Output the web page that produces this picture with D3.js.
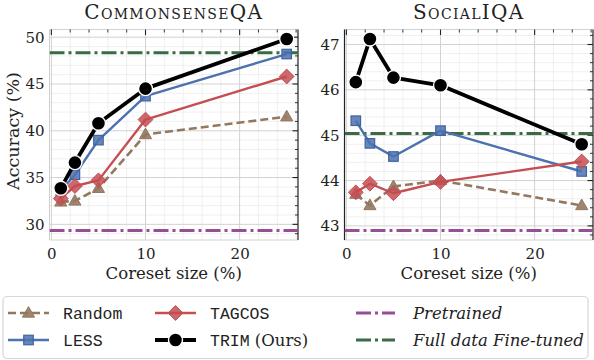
<!DOCTYPE html>
<html><head><meta charset="utf-8">
<script src="https://cdn.jsdelivr.net/npm/d3@7"></script>
<style>
body{margin:0;background:#fff;}
svg{display:block;}
</style></head>
<body><svg id="c" width="594" height="360"></svg>
<script>
// ---- data ----
const coresetSizes = [1, 2.5, 5, 10, 25];
const panelTitles = ["CommonsenseQA", "SocialIQA"];
const seriesNames = ["Random", "LESS", "TAGCOS", "TRIM"];
// CommonsenseQA
const csqaRandom = [32.4, 32.5, 33.85, 39.6, 41.5];
const csqaLESS   = [33.6, 35.3, 39.0, 43.7, 48.2];
const csqaTAGCOS = [32.75, 34.1, 34.7, 41.2, 45.8];
const csqaTRIM   = [33.85, 36.6, 40.8, 44.5, 49.8];
const csqaPretrained = 29.35;
const csqaFullFT = 48.35;
// SocialIQA
const siqaRandom = [43.7, 43.45, 43.87, 44.0, 43.45];
const siqaLESS   = [45.32, 44.82, 44.53, 45.1, 44.2];
const siqaTAGCOS = [43.74, 43.93, 43.72, 43.97, 44.42];
const siqaTRIM   = [46.17, 47.12, 46.27, 46.1, 44.8];
const siqaPretrained = 42.9;
const siqaFullFT = 45.04;
// ticks
const xTicks = [0, 10, 20];
const csqaYTicks = [30, 35, 40, 45, 50];
const siqaYTicks = [43, 44, 45, 46, 47];

const colors = {Random:"#937860", LESS:"#4c72b0", TAGCOS:"#c44e52", TRIM:"#000000",
  Pretrained:"#984e94", FullFT:"#3b6b45"};

const panels = [
  {title:panelTitles[0], left:49.5, right:298, series:{Random:csqaRandom,LESS:csqaLESS,TAGCOS:csqaTAGCOS,TRIM:csqaTRIM},
   pre:csqaPretrained, full:csqaFullFT, yTicks:csqaYTicks, minorY:1, ylabel:true},
  {title:panelTitles[1], left:344.5, right:593, series:{Random:siqaRandom,LESS:siqaLESS,TAGCOS:siqaTAGCOS,TRIM:siqaTRIM},
   pre:siqaPretrained, full:siqaFullFT, yTicks:siqaYTicks, minorY:0.2, ylabel:false}
];
const plotTop = 29.5, plotBottom = 240;
const svg = d3.select("#c");
const serif = '"DejaVu Serif","Liberation Serif",serif';
const mono = '"Liberation Mono","DejaVu Sans Mono",monospace';

function marker(g, name, cx, cy){
  if(name==="TRIM"){
    g.append("circle").attr("cx",cx).attr("cy",cy).attr("r",7).attr("fill","#000").attr("stroke","#fff").attr("stroke-width",1.4);
  } else if(name==="LESS"){
    const s=9.5;
    g.append("rect").attr("x",cx-s/2).attr("y",cy-s/2).attr("width",s).attr("height",s)
      .attr("fill",colors.LESS).attr("fill-opacity",0.85).attr("stroke","#3f62a0").attr("stroke-width",1.2);
  } else if(name==="TAGCOS"){
    const r=7.4;
    g.append("path").attr("d",`M${cx},${cy-r}L${cx+r},${cy}L${cx},${cy+r}L${cx-r},${cy}Z`)
      .attr("fill",colors.TAGCOS).attr("fill-opacity",0.85).attr("stroke",colors.TAGCOS).attr("stroke-width",1);
  } else {
    const r=6.4;
    g.append("path").attr("d",`M${cx},${cy-r}L${cx+r*0.95},${cy+r*0.65}L${cx-r*0.95},${cy+r*0.65}Z`)
      .attr("fill",colors.Random).attr("fill-opacity",0.9).attr("stroke",colors.Random).attr("stroke-width",1);
  }
}
const lineStyle = {
  Random:{w:2.6, dash:"8,4"}, LESS:{w:2.4, dash:null}, TAGCOS:{w:2.4, dash:null}, TRIM:{w:3.8, dash:null}
};

panels.forEach((p,pi)=>{
  const allVals = [].concat(...Object.values(p.series), [p.pre, p.full]);
  const ymin = d3.min(allVals), ymax = d3.max(allVals), ypad = (ymax-ymin)*0.05;
  const x = d3.scaleLinear().domain([-0.2, 26.2]).range([p.left, p.right]);
  const y = d3.scaleLinear().domain([ymin-ypad, ymax+ypad]).range([plotBottom, plotTop]);
  const g = svg.append("g");

  // minor grid
  const xMinor = d3.range(0, 26.2, 2).filter(v=>v%10!==0);
  const [y0,y1] = y.domain();
  const yMinor = d3.range(Math.ceil(y0/p.minorY)*p.minorY, y1, p.minorY).map(v=>+v.toFixed(3)).filter(v=>!p.yTicks.some(t=>Math.abs(t-v)<1e-6));
  g.selectAll(".mx").data(xMinor).join("line").attr("x1",d=>x(d)).attr("x2",d=>x(d)).attr("y1",plotTop).attr("y2",plotBottom).attr("stroke","#ececec").attr("stroke-width",0.8);
  g.selectAll(".my").data(yMinor).join("line").attr("y1",d=>y(d)).attr("y2",d=>y(d)).attr("x1",p.left).attr("x2",p.right).attr("stroke","#ececec").attr("stroke-width",0.8);
  // major grid
  g.selectAll(".gx").data(xTicks).join("line").attr("x1",d=>x(d)).attr("x2",d=>x(d)).attr("y1",plotTop).attr("y2",plotBottom).attr("stroke","#d2d2d2").attr("stroke-width",1);
  g.selectAll(".gy").data(p.yTicks).join("line").attr("y1",d=>y(d)).attr("y2",d=>y(d)).attr("x1",p.left).attr("x2",p.right).attr("stroke","#d2d2d2").attr("stroke-width",1);

  // frame
  g.append("line").attr("x1",p.left).attr("x2",p.right).attr("y1",plotBottom).attr("y2",plotBottom).attr("stroke","#d2d2d2");
  g.append("line").attr("x1",p.left).attr("x2",p.right).attr("y1",plotTop).attr("y2",plotTop).attr("stroke","#d2d2d2");
  g.append("line").attr("x1",p.left).attr("x2",p.left).attr("y1",plotTop).attr("y2",plotBottom).attr("stroke",pi===0?"#cfcfcf":"#222").attr("stroke-width",pi===0?1:1.2);
  g.append("line").attr("x1",p.right).attr("x2",p.right).attr("y1",plotTop).attr("y2",plotBottom).attr("stroke","#222").attr("stroke-width",1.2);

  // top ticks (inward) and right ticks (inward)
  g.selectAll(".tt").data(xTicks).join("line").attr("x1",d=>x(d)).attr("x2",d=>x(d)).attr("y1",plotTop).attr("y2",plotTop+5.5).attr("stroke","#222").attr("stroke-width",1.1);
  g.selectAll(".tm").data(xMinor).join("line").attr("x1",d=>x(d)).attr("x2",d=>x(d)).attr("y1",plotTop).attr("y2",plotTop+3).attr("stroke","#222").attr("stroke-width",0.9);
  g.selectAll(".rt").data(p.yTicks).join("line").attr("x1",p.right).attr("x2",p.right-5.5).attr("y1",d=>y(d)).attr("y2",d=>y(d)).attr("stroke","#222").attr("stroke-width",1.1);
  g.selectAll(".rm").data(yMinor).join("line").attr("x1",p.right).attr("x2",p.right-3).attr("y1",d=>y(d)).attr("y2",d=>y(d)).attr("stroke","#222").attr("stroke-width",0.9);

  // tick labels
  const xAxis = d3.axisBottom(x).tickValues(xTicks).tickSize(0).tickPadding(5).tickFormat(d3.format("d"));
  const xa = g.append("g").attr("transform",`translate(0,${plotBottom})`).call(xAxis);
  xa.select(".domain").remove();
  xa.selectAll("text").attr("font-family",serif).attr("font-size",15).attr("fill","#222").attr("dy","0.9em");
  const yAxis = d3.axisLeft(y).tickValues(p.yTicks).tickSize(0).tickPadding(5).tickFormat(d3.format("d"));
  const ya = g.append("g").attr("transform",`translate(${p.left},0)`).call(yAxis);
  ya.select(".domain").remove();
  ya.selectAll("text").attr("font-family",serif).attr("font-size",15).attr("fill","#222");

  // reference lines
  const clipId = "clip"+pi;
  svg.append("clipPath").attr("id",clipId).append("rect").attr("x",p.left).attr("y",plotTop).attr("width",p.right-p.left).attr("height",plotBottom-plotTop);
  const data = g.append("g").attr("clip-path",`url(#${clipId})`);
  data.append("line").attr("x1",p.left).attr("x2",p.right).attr("y1",y(p.pre)).attr("y2",y(p.pre))
    .attr("stroke",colors.Pretrained).attr("stroke-width",3).attr("stroke-dasharray","15,4,3,4");
  data.append("line").attr("x1",p.left).attr("x2",p.right).attr("y1",y(p.full)).attr("y2",y(p.full))
    .attr("stroke",colors.FullFT).attr("stroke-width",3).attr("stroke-dasharray","15,4,3,4");

  const line = d3.line().x((d,i)=>x(coresetSizes[i])).y(d=>y(d));
  seriesNames.forEach(name=>{
    const vals = p.series[name];
    const st = lineStyle[name];
    const sg = data.append("g");
    sg.append("path").attr("d",line(vals)).attr("fill","none").attr("stroke",colors[name])
      .attr("stroke-width",st.w).attr("stroke-dasharray",st.dash).attr("stroke-linejoin","round");
    vals.forEach((v,i)=>marker(sg,name,x(coresetSizes[i]),y(v)));
  });

  // title
  const cx = (p.left+p.right)/2;
  g.append("text").attr("x",cx).attr("y",19).attr("text-anchor","middle").attr("font-family",serif)
    .attr("font-size",20).attr("letter-spacing",1.3).attr("font-variant","small-caps").attr("fill","#222").text(p.title);
  // x label
  g.append("text").attr("x",cx).attr("y",279).attr("text-anchor","middle").attr("font-family",serif)
    .attr("font-size",16.5).attr("fill","#222").text("Coreset size (%)");
  if(p.ylabel){
    g.append("text").attr("transform",`translate(19,${131}) rotate(-90)`).attr("text-anchor","middle")
      .attr("font-family",serif).attr("font-size",17.5).attr("fill","#222").text("Accuracy (%)");
  }
});

// ---- legend ----
const lg = svg.append("g");
lg.append("rect").attr("x",3).attr("y",296.5).attr("width",585).attr("height",62).attr("rx",4)
  .attr("fill","#fff").attr("stroke","#d8d8d8").attr("stroke-width",1.2);
const legendItems = [
  {name:"Random", col:0, row:0, kind:"series"},
  {name:"LESS", col:0, row:1, kind:"series"},
  {name:"TAGCOS", col:1, row:0, kind:"series"},
  {name:"TRIM", col:1, row:1, kind:"series"},
  {name:"Pretrained", col:2, row:0, kind:"ref"},
  {name:"FullFT", col:2, row:1, kind:"ref"}
];
const colX = [8, 155, 356];
const rowY = [313, 340];
legendItems.forEach(it=>{
  const x0 = colX[it.col], yy = rowY[it.row];
  if(it.kind==="series"){
    const st = lineStyle[it.name];
    lg.append("line").attr("x1",x0).attr("x2",x0+41).attr("y1",yy).attr("y2",yy).attr("stroke",colors[it.name])
      .attr("stroke-width",st.w).attr("stroke-dasharray",st.dash);
    marker(lg,it.name,x0+20.5,yy);
    const t = lg.append("text").attr("x",x0+55).attr("y",yy).attr("dy","0.35em").attr("font-size",16.5).attr("fill","#222");
    t.append("tspan").attr("font-family",mono).text(it.name);
    if(it.name==="TRIM") t.append("tspan").attr("font-family",serif).attr("font-size",16.5).text(" (Ours)");
  } else {
    lg.append("line").attr("x1",x0).attr("x2",x0+39).attr("y1",yy).attr("y2",yy).attr("stroke",colors[it.name])
      .attr("stroke-width",3).attr("stroke-dasharray","15,4,3,4");
    lg.append("text").attr("x",x0+57).attr("y",yy).attr("dy","0.35em").attr("font-family",serif).attr("font-style","italic")
      .attr("font-size",16.5).attr("fill","#222").text(it.name==="Pretrained"?"Pretrained":"Full data Fine-tuned");
  }
});
</script></body></html>
